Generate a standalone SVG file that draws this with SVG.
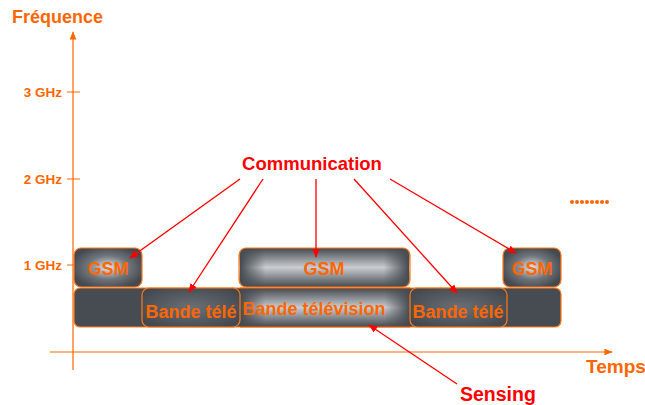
<svg xmlns="http://www.w3.org/2000/svg" width="645" height="405" viewBox="0 0 645 405">
  <defs>
    <radialGradient id="glowRound" cx="0.5" cy="0.5" r="0.55">
      <stop offset="0" stop-color="#e4e6e8"/>
      <stop offset="0.55" stop-color="#6f757b"/>
      <stop offset="1" stop-color="#454a50"/>
    </radialGradient>
    <linearGradient id="glowBandV" x1="0" y1="0" x2="0" y2="1">
      <stop offset="0" stop-color="#454a50"/>
      <stop offset="0.5" stop-color="#c9cdd1"/>
      <stop offset="1" stop-color="#454a50"/>
    </linearGradient>
    <linearGradient id="glowBandH" x1="0" y1="0" x2="1" y2="0">
      <stop offset="0" stop-color="#454a50" stop-opacity="1"/>
      <stop offset="0.15" stop-color="#454a50" stop-opacity="0"/>
      <stop offset="0.85" stop-color="#454a50" stop-opacity="0"/>
      <stop offset="1" stop-color="#454a50" stop-opacity="1"/>
    </linearGradient>
    <radialGradient id="softDark" cx="0.5" cy="0.5" r="0.6">
      <stop offset="0" stop-color="#6a7076"/>
      <stop offset="1" stop-color="#44494f"/>
    </radialGradient>
    <marker id="axisHead" viewBox="0 0 10 10" refX="9" refY="5" markerWidth="7" markerHeight="7" orient="auto">
      <path d="M0,1 L10,5 L0,9 Z" fill="#ff6600"/>
    </marker>
    <marker id="redHead" viewBox="0 0 10 10" refX="9" refY="5" markerWidth="7" markerHeight="7" orient="auto">
      <path d="M0,1 L10,5 L0,9 Z" fill="#ff0000"/>
    </marker>
  </defs>
  <style>
    .axis { stroke: #ff6600; stroke-width: 1.2; fill: none; }
    .tick { stroke: #ff6600; stroke-width: 1; }
    .lbl { font-family: "Liberation Sans", Arial, sans-serif; font-weight: bold; fill: #ff6600; }
    .box { stroke: #ff7a1a; stroke-width: 1.2; }
    .boxtxt { font-family: "Liberation Sans", Arial, sans-serif; font-weight: bold; font-size: 18px; fill: #ff6600; text-anchor: middle; }
    .call { font-family: "Liberation Sans", Arial, sans-serif; font-weight: bold; fill: #ff0000; }
    .ptr { stroke: #ff0000; stroke-width: 1.3; fill: none; marker-end: url(#redHead); }
  </style>

  <!-- axes -->
  <g id="axes">
    <line class="axis" x1="73" y1="370" x2="73" y2="32" marker-end="url(#axisHead)"/>
    <line class="axis" x1="50" y1="352" x2="612" y2="352" marker-end="url(#axisHead)"/>
    <line class="tick" x1="67" y1="92" x2="80" y2="92"/>
    <line class="tick" x1="67" y1="179" x2="80" y2="179"/>
    <line class="tick" x1="67" y1="265" x2="80" y2="265"/>
    <text class="lbl" x="12" y="23" font-size="18">Fréquence</text>
    <text class="lbl" x="62" y="97" font-size="13.5" text-anchor="end">3 GHz</text>
    <text class="lbl" x="62" y="184" font-size="13.5" text-anchor="end">2 GHz</text>
    <text class="lbl" x="62" y="270" font-size="13.5" text-anchor="end">1 GHz</text>
    <text class="lbl" x="586" y="373" font-size="19">Temps</text>
  </g>

  <!-- sensing band (television) -->
  <g id="band-bg">
    <rect class="box" x="74" y="288" width="487" height="39" rx="6" fill="#474c52"/>
  </g>
  <g id="band-tv">
    <rect x="240" y="288" width="170" height="39" fill="url(#glowBandV)"/>
    <rect x="240" y="288" width="170" height="39" fill="url(#glowBandH)"/>
    <line class="tick" x1="240" y1="288" x2="410" y2="288"/>
    <line class="tick" x1="240" y1="327" x2="410" y2="327"/>
    <text class="boxtxt" x="314" y="315">Bande télévision</text>
  </g>
  <g id="band-tele-left">
    <rect class="box" x="142" y="288" width="98" height="39" rx="7" fill="url(#softDark)"/>
    <text class="boxtxt" x="191" y="318">Bande télé</text>
  </g>
  <g id="band-tele-right">
    <rect class="box" x="410" y="288" width="97" height="39" rx="7" fill="url(#softDark)"/>
    <text class="boxtxt" x="458" y="318">Bande télé</text>
  </g>

  <!-- GSM slots -->
  <g id="gsm-left">
    <rect class="box" x="74" y="248" width="68" height="39" rx="7" fill="url(#glowRound)"/>
    <text class="boxtxt" x="108" y="275">GSM</text>
  </g>
  <g id="gsm-center">
    <rect class="box" x="239" y="248" width="171" height="39" rx="7" fill="url(#glowBandV)"/>
    <rect x="240" y="249" width="169" height="37" rx="6" fill="url(#glowBandH)"/>
    <text class="boxtxt" x="324" y="275">GSM</text>
  </g>
  <g id="gsm-right">
    <rect class="box" x="503" y="248" width="58" height="39" rx="7" fill="url(#glowRound)"/>
    <text class="boxtxt" x="532" y="275">GSM</text>
  </g>

  <!-- more to come -->
  <g id="dots" fill="#ff6600">
    <circle cx="572" cy="202" r="2"/>
    <circle cx="577" cy="202" r="2"/>
    <circle cx="582" cy="202" r="2"/>
    <circle cx="587" cy="202" r="2"/>
    <circle cx="592" cy="202" r="2"/>
    <circle cx="597" cy="202" r="2"/>
    <circle cx="602" cy="202" r="2"/>
    <circle cx="607" cy="202" r="2"/>
  </g>

  <!-- callouts -->
  <g id="label-communication">
    <text class="call" x="312" y="170" font-size="18.5" text-anchor="middle">Communication</text>
  </g>
  <g id="label-sensing">
    <text class="call" x="460" y="401" font-size="19.5">Sensing</text>
  </g>
  <g id="connectors">
    <line class="ptr" x1="240" y1="179" x2="130" y2="258"/>
    <line class="ptr" x1="263" y1="179" x2="189" y2="292"/>
    <line class="ptr" x1="316" y1="179" x2="316" y2="257"/>
    <line class="ptr" x1="354" y1="179" x2="457" y2="293"/>
    <line class="ptr" x1="390" y1="179" x2="516" y2="253"/>
    <line class="ptr" x1="457" y1="384" x2="369" y2="325"/>
  </g>
</svg>
